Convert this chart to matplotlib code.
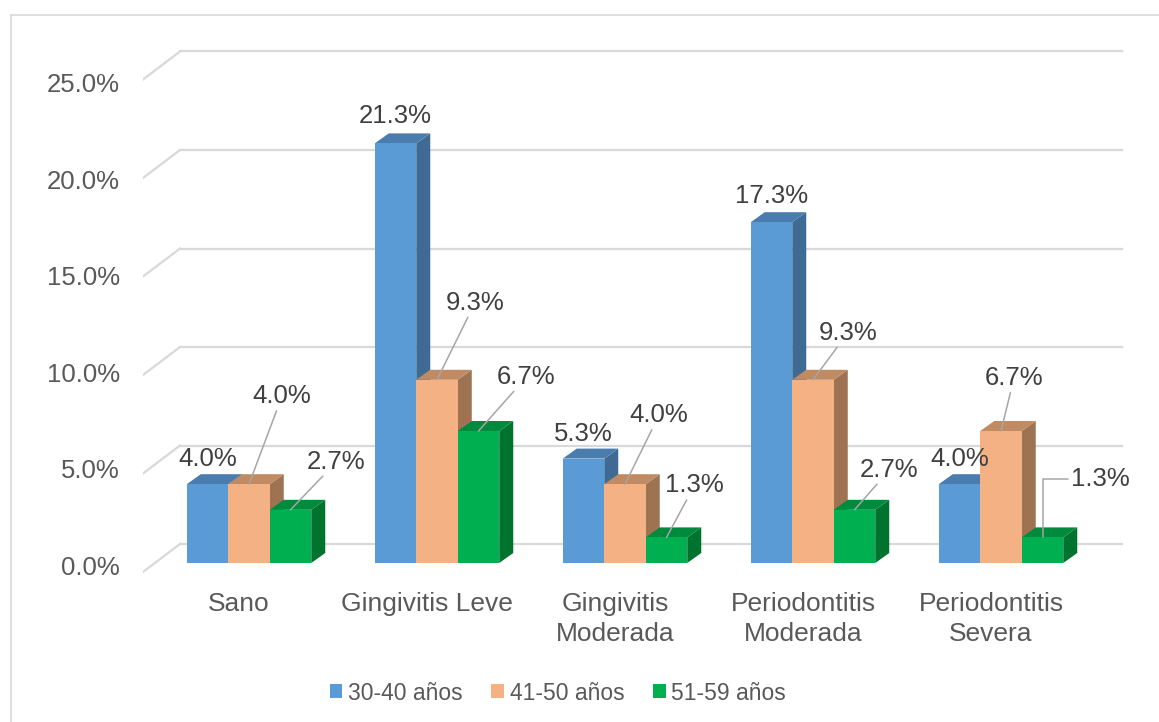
import matplotlib
matplotlib.use("Agg")
import matplotlib.pyplot as plt
from matplotlib.patches import Polygon, Patch
from matplotlib.lines import Line2D

plt.rcParams["font.family"] = ["Liberation Sans", "DejaVu Sans"]

categories = ["Sano", "Gingivitis Leve", "Gingivitis\nModerada",
              "Periodontitis\nModerada", "Periodontitis\nSevera"]
series = ["30-40 años", "41-50 años", "51-59 años"]
v_30_40 = [4.0, 21.3, 5.3, 17.3, 4.0]
v_41_50 = [4.0, 9.3, 4.0, 9.3, 6.7]
v_51_59 = [2.7, 6.7, 1.3, 2.7, 1.3]
yticks = [0, 5, 10, 15, 20, 25]

front_col = ["#5B9BD5", "#F4B183", "#00B050"]
top_col = ["#4A7DAE", "#C08A62", "#008A3E"]
side_col = ["#3F6A93", "#9E7352", "#00732F"]

# label offsets in pixels (label centre minus bar top), per series
lab_off = [
    [(0, 25), (0, 27), (0, 25), (0, 26), (0, 25)],
    [(33, 88), (38, 77), (34, 69), (35, 47), (13, 53)],
    [(46, 48), (48, 54), (28, 52), (35, 40), (58, 58)],
]

W, H = 1159, 722
PX_X = 188.0   # pixels per category
PX_Y = 19.7    # pixels per percent

fig = plt.figure(figsize=(W / 100, H / 100), dpi=100)
ax = fig.add_axes([143 / W, 122 / H, 997 / W, 560 / H])
ax.set_xlim(-106 / PX_X, 891 / PX_X)
ax.set_ylim(-37 / PX_Y, 523 / PX_Y)
ax.axis("off")

grid_c = "#D9D9D9"
back_off = 19 / PX_Y      # back wall relative to bar front base
front_off = -9 / PX_Y     # front edge of the floor
x_back_l = -69 / PX_X
x_back_r = 873 / PX_X
x_front_l = -106 / PX_X

for t in yticks:
    ax.plot([x_back_l, x_back_r], [t + back_off, t + back_off], color=grid_c, lw=1.6, zorder=1)
    ax.plot([x_front_l, x_back_l], [t + front_off, t + back_off], color=grid_c, lw=1.6, zorder=1)
    ax.text(-129 / PX_X, 0.98 * t - 0.25, f"{t:.1f}%", ha="right", va="center",
            fontsize=18.5, color="#595959")

bw = 41.5 / PX_X
ddx = 14 / PX_X
ddy = 10 / PX_Y

all_vals = [v_30_40, v_41_50, v_51_59]
for s, vals in enumerate(all_vals):
    for c, v in enumerate(vals):
        x = c + (s - 1) * bw
        z = 3 + s * 3
        xl, xr = x - bw / 2, x + bw / 2
        ax.add_patch(Polygon([(xr, 0), (xr + ddx, ddy), (xr + ddx, v + ddy), (xr, v)],
                             closed=True, fc=side_col[s], ec="none", zorder=z))
        ax.add_patch(Polygon([(xl, v), (xr, v), (xr + ddx, v + ddy), (xl + ddx, v + ddy)],
                             closed=True, fc=top_col[s], ec="none", zorder=z + 1))
        ax.bar(x, v, width=bw, color=front_col[s], zorder=z + 2, linewidth=0)

        ox, oy = lab_off[s][c]
        kw = dict(xy=(x, v), xytext=(ox, oy), textcoords="offset pixels",
                  ha="center", va="center", fontsize=18.5, color="#404040", zorder=30,
                  bbox=dict(boxstyle="square,pad=0.05", fc="none", ec="none"))
        if s > 0:
            cs = "arc3"
            if s == 2 and c == 4:
                cs = "angle,angleA=0,angleB=90,rad=0"
            kw["arrowprops"] = dict(arrowstyle="-", color="#A6A6A6", lw=1.1,
                                    shrinkA=1, shrinkB=0, connectionstyle=cs)
        ax.annotate(f"{v:.1f}%", **kw)

for c, name in enumerate(categories):
    ax.text(c - 10 / PX_X, -29 / PX_Y, name, ha="center", va="top",
            fontsize=19, color="#595959", linespacing=1.3)

handles = [Patch(facecolor=front_col[i], edgecolor="none", label=series[i]) for i in range(3)]
fig.legend(handles=handles, loc="center", bbox_to_anchor=(558 / W, 1 - 693 / H), ncol=3,
           frameon=False, fontsize=16.5, handlelength=0.55, handleheight=0.55,
           handletextpad=0.25, columnspacing=1.25, labelcolor="#595959")

fig.add_artist(Line2D([11 / W, 11 / W], [0, 1 - 15 / H], color=grid_c, lw=1.2))
fig.add_artist(Line2D([11 / W, 1], [1 - 15 / H, 1 - 15 / H], color=grid_c, lw=1.2))

fig.savefig("out.png", dpi=100)
